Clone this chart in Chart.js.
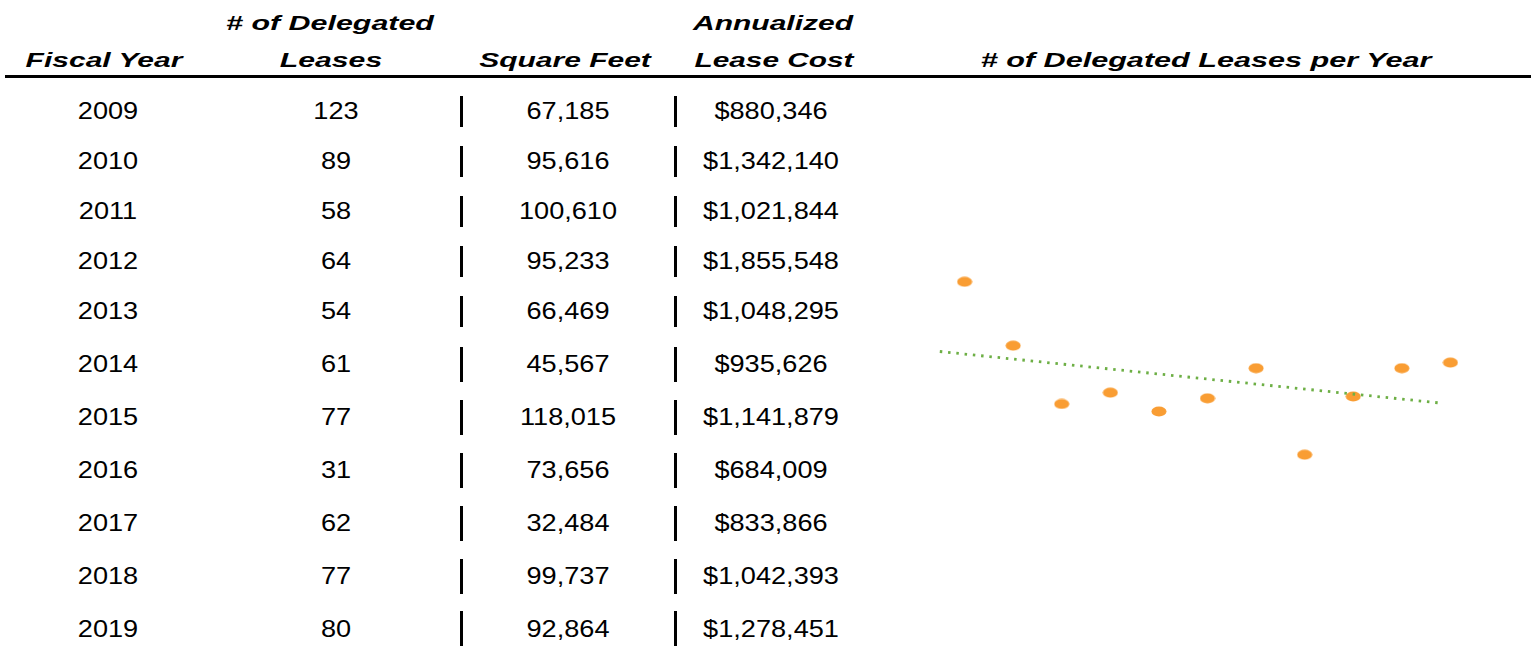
<!DOCTYPE html>
<html>
<head>
<meta charset="utf-8">
<script src="https://cdn.jsdelivr.net/npm/chart.js@4/dist/chart.umd.min.js"></script>
<style>
  body { margin: 0; background: #fff; width: 1531px; height: 646px; overflow: hidden; position: relative; font-family: "Liberation Sans", Arial, sans-serif; color: #000; }
  .t { position: absolute; white-space: nowrap; line-height: 1; }
  .hd { font-size: 20px; font-weight: bold; font-style: italic; }
  .bd { font-size: 23px; }
  .bar { position: absolute; width: 3px; background: #000; }
  #rule { position: absolute; left: 5px; right: 0; top: 75px; height: 2.5px; background: #000; }
  #wrap { position: absolute; left: 916px; top: 231px; width: 583px; height: 282px; }
</style>
</head>
<body>
<div id="rule"></div>
<div id="wrap"><canvas id="myChart" width="583" height="282"></canvas></div>
<script>
// 表格資料
var years = [2009, 2010, 2011, 2012, 2013, 2014, 2015, 2016, 2017, 2018, 2019];
var leases = [123, 89, 58, 64, 54, 61, 77, 31, 62, 77, 80];
var squareFeet = [67185, 95616, 100610, 95233, 66469, 45567, 118015, 73656, 32484, 99737, 92864];
var leaseCost = [880346, 1342140, 1021844, 1855548, 1048295, 935626, 1141879, 684009, 833866, 1042393, 1278451];
// 趨勢線 (讀自圖上的兩端)
var trendX = [-0.51, 9.83];
var trendY = [85.9, 58.4];

var title = '# of Delegated Leases per Year';

// 版面位置
var rowY = [111, 161, 211, 261, 311, 364, 417, 470, 523, 576, 628.5];
var colX = [108, 336, 568, 771];

function put(text, cx, cy, cls, sx) {
    var el = document.createElement('div');
    el.className = 't ' + cls;
    el.textContent = text;
    el.style.left = cx + 'px';
    el.style.top = cy + 'px';
    el.style.transform = 'translate(-50%, -50%) scaleX(' + sx + ')';
    document.body.appendChild(el);
}

// 表頭
put('Fiscal Year', 104, 59.5, 'hd', 1.5);
put('# of Delegated', 330, 22.5, 'hd', 1.52);
put('Leases', 331, 59.5, 'hd', 1.51);
put('Square Feet', 565, 59.5, 'hd', 1.5);
put('Annualized', 773, 22.5, 'hd', 1.5);
put('Lease Cost', 774, 59.5, 'hd', 1.49);
put(title, 1205.5, 59.5, 'hd', 1.53);

// 表格內容
years.forEach(function (y, i) {
    var cy = rowY[i];
    put(String(y), colX[0], cy, 'bd', 1.18);
    put(String(leases[i]), colX[1], cy, 'bd', 1.18);
    put(squareFeet[i].toLocaleString('en-US'), colX[2], cy, 'bd', 1.18);
    put('$' + leaseCost[i].toLocaleString('en-US'), colX[3], cy, 'bd', 1.18);
    var h = i < 5 ? 31 : 35;
    [460, 674].forEach(function (bx) {
        var b = document.createElement('div');
        b.className = 'bar';
        b.style.left = bx + 'px';
        b.style.top = (cy - h / 2) + 'px';
        b.style.height = h + 'px';
        document.body.appendChild(b);
    });
});

// 橢圓形的點
var dot = document.createElement('canvas');
dot.width = 16;
dot.height = 11;
var dctx = dot.getContext('2d');
dctx.fillStyle = '#F99D33';
dctx.beginPath();
dctx.ellipse(8, 5.5, 7.5, 5, 0, 0, Math.PI * 2);
dctx.fill();

var ctx = document.getElementById('myChart').getContext('2d');
var myChart = new Chart(ctx, {
    type: 'scatter',
    data: {
        datasets: [
            {
                label: 'trend',
                data: trendX.map(function (x, i) { return { x: x, y: trendY[i] }; }),
                showLine: true,
                borderColor: '#6DAF45',
                borderWidth: 2.8,
                borderDash: [2.5, 5.8],
                pointRadius: 0,
                fill: false,
                order: 0
            },
            {
                label: title,
                data: leases.map(function (v, i) { return { x: i, y: v }; }),
                pointStyle: dot,
                pointRadius: 6,
                order: 1
            }
        ]
    },
    options: {
        responsive: false,
        animation: false,
        clip: false,
        layout: { padding: 0, autoPadding: false },
        scales: {
            x: { type: 'linear', min: -1, max: 11, display: false },
            y: { type: 'linear', min: 0, max: 150, display: false }
        },
        plugins: {
            legend: { display: false },
            tooltip: { enabled: false }
        }
    }
});
</script>
</body>
</html>
